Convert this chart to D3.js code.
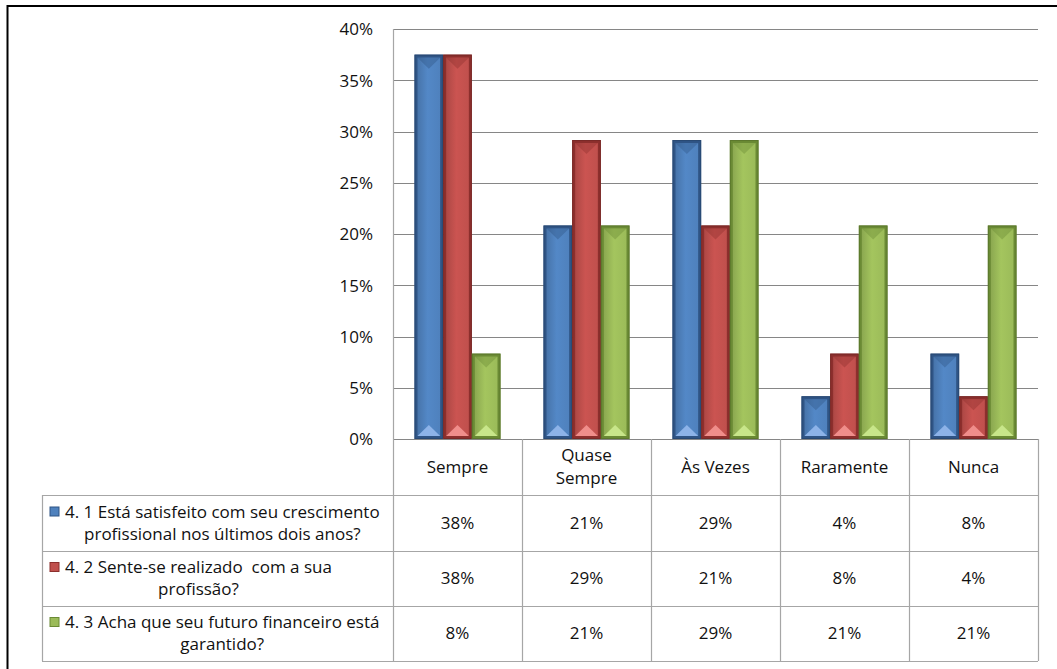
<!DOCTYPE html>
<html><head><meta charset="utf-8">
<script src="https://cdn.jsdelivr.net/npm/d3@7"></script>
<style>
body{margin:0;background:#fff;}
svg{display:block;font-family:"Open Sans","Lato",sans-serif;}
text{white-space:pre;}
</style></head>
<body>
<svg id="chart" width="1057" height="669"></svg>
<script>
const categories = ["Sempre", "Quase Sempre", "Às Vezes", "Raramente", "Nunca"];
const categoryLines = [["Sempre"], ["Quase", "Sempre"], ["Às Vezes"], ["Raramente"], ["Nunca"]];
const seriesNames = [
  ["4. 1 Está satisfeito com seu crescimento", "profissional nos últimos dois anos?"],
  ["4. 2 Sente-se realizado  com a sua", "profissão?"],
  ["4. 3 Acha que seu futuro financeiro está", "garantido?"]
];
const s1 = [0.375, 0.2083, 0.2917, 0.0417, 0.0833];
const s2 = [0.375, 0.2917, 0.2083, 0.0833, 0.0417];
const s3 = [0.0833, 0.2083, 0.2917, 0.2083, 0.2083];
const yTicks = [0, 0.05, 0.10, 0.15, 0.20, 0.25, 0.30, 0.35, 0.40];
const colors = ["#4F81BD", "#C0504D", "#9BBB59"];
const darkColors = ["#2F5485", "#8C2F2D", "#6A8A34"];
const lightColors = ["#8DB3E8", "#F08E8B", "#C8E68A"];

const series = [s1, s2, s3];
const svg = d3.select("#chart");
const fmt = d3.format(".0%");
const FS = 17;

const plotL = 393, plotR = 1038, plotT = 29, plotB = 439;
const tableL = 42;
const rowYs = [439, 495, 551, 606, 661];

const x = d3.scaleBand().domain(categories).range([plotL, plotR]).paddingInner(0).paddingOuter(0);
const y = d3.scaleLinear().domain([0, 0.4]).range([plotB, plotT]);
const gap = 1.5;
const xs = d3.scaleBand().domain([0,1,2]).range([x.bandwidth()*gap/(3+gap)/2, x.bandwidth() - x.bandwidth()*gap/(3+gap)/2]).padding(0);

// frame
svg.append("line").attr("x1", 7.5).attr("x2", 1057).attr("y1", 6).attr("y2", 6).attr("stroke", "#000").attr("stroke-width", 2);
svg.append("line").attr("x1", 7.5).attr("x2", 7.5).attr("y1", 5).attr("y2", 669).attr("stroke", "#000").attr("stroke-width", 2);

// gridlines
svg.append("g").selectAll("line").data(yTicks.slice(1)).join("line")
  .attr("x1", plotL).attr("x2", plotR)
  .attr("y1", d => Math.round(y(d)) + 0.5).attr("y2", d => Math.round(y(d)) + 0.5)
  .attr("stroke", "#868686").attr("stroke-width", 1);

// y axis
const yAxis = d3.axisLeft(y).tickValues(yTicks).tickFormat(fmt).tickSize(0).tickPadding(20);
const ga = svg.append("g").attr("transform", `translate(${plotL},0)`).call(yAxis);
ga.select(".domain").remove();
ga.selectAll("text").attr("font-size", FS).attr("font-family", "Open Sans").attr("fill", "#111").attr("dy", "0.35em");
svg.append("line").attr("x1", plotL + 0.5).attr("x2", plotL + 0.5).attr("y1", plotT).attr("y2", plotB)
  .attr("stroke", "#868686");

// defs for gradients
const defs = svg.append("defs");
colors.forEach((c, i) => {
  const g = defs.append("linearGradient").attr("id", "g" + i).attr("x1", "0").attr("x2", "1").attr("y1", "0").attr("y2", "0");
  g.append("stop").attr("offset", "0").attr("stop-color", d3.color(c).darker(0.3));
  g.append("stop").attr("offset", "0.45").attr("stop-color", d3.color(c).brighter(0.15));
  g.append("stop").attr("offset", "1").attr("stop-color", c);
});

// bars
series.forEach((s, si) => {
  const g = svg.append("g");
  const bars = g.selectAll("g").data(s.map((v, ci) => ({v, c: categories[ci]}))).join("g")
    .attr("transform", d => `translate(${x(d.c) + xs(si)},0)`);
  bars.each(function(d) {
    const b = d3.select(this);
    const top = y(d.v), bot = y(0), w = xs.bandwidth(), h = bot - top;
    const e = 3;
    b.append("rect").attr("x", 0).attr("y", top).attr("width", w).attr("height", h)
      .attr("fill", darkColors[si]);
    b.append("rect").attr("x", e).attr("y", top + e).attr("width", w - 2*e).attr("height", Math.max(0, h - 2*e))
      .attr("fill", `url(#g${si})`);
    const th = Math.min(11, h/2 - e);
    b.append("path").attr("d", `M${e},${top+e}L${w-e},${top+e}L${w/2},${top+e+th}Z`)
      .attr("fill", darkColors[si]).attr("opacity", 0.4);
    b.append("path").attr("d", `M${e},${bot-e}L${w-e},${bot-e}L${w/2},${bot-e-th}Z`)
      .attr("fill", lightColors[si]);
    b.append("rect").attr("x", 0.5).attr("y", top + 0.5).attr("width", w - 1).attr("height", h - 1)
      .attr("fill", "none").attr("stroke", d3.color(darkColors[si]).darker(0.4)).attr("stroke-width", 1);
  });
});

// data table lines
const tl = svg.append("g").attr("stroke", "#A6A6A6").attr("stroke-width", 1.2);
tl.append("line").attr("x1", plotL).attr("x2", plotR).attr("y1", rowYs[0]+0.5).attr("y2", rowYs[0]+0.5).attr("stroke", "#868686");
rowYs.slice(1).forEach(ry => {
  tl.append("line").attr("x1", tableL).attr("x2", plotR).attr("y1", ry + 0.5).attr("y2", ry + 0.5);
});
tl.append("line").attr("x1", tableL + 0.5).attr("x2", tableL + 0.5).attr("y1", rowYs[1]).attr("y2", rowYs[4]);
categories.forEach((c, i) => {
  const xx = x(c);
  tl.append("line").attr("x1", xx + 0.5).attr("x2", xx + 0.5).attr("y1", i === 0 ? plotT : rowYs[0]).attr("y2", rowYs[4]);
});
tl.append("line").attr("x1", plotR + 0.5).attr("x2", plotR + 0.5).attr("y1", rowYs[0]).attr("y2", rowYs[4]);

// category labels
categoryLines.forEach((lines, i) => {
  const cx = x(categories[i]) + x.bandwidth()/2;
  const cy = (rowYs[0] + rowYs[1]) / 2;
  const lh = 23;
  lines.forEach((t, li) => {
    svg.append("text").attr("x", cx).attr("y", cy + (li - (lines.length - 1)/2) * lh)
      .attr("dy", "0.35em").attr("text-anchor", "middle").attr("font-size", FS).attr("fill", "#111").text(t);
  });
});

// series rows
series.forEach((s, si) => {
  const cy = (rowYs[si+1] + rowYs[si+2]) / 2;
  s.forEach((v, ci) => {
    svg.append("text").attr("x", x(categories[ci]) + x.bandwidth()/2).attr("y", cy).attr("dy", "0.35em")
      .attr("text-anchor", "middle").attr("font-size", FS).attr("fill", "#111").text(fmt(v));
  });
  const lines = seriesNames[si];
  const lh = 22;
  const keyX = tableL + 8;
  const textX = keyX + 15;
  const t1 = svg.append("text").attr("x", textX).attr("y", cy - lh/2).attr("dy", "0.35em")
    .attr("text-anchor", "start").attr("font-size", FS).attr("fill", "#111").text(lines[0]);
  const bb = t1.node().getBBox();
  svg.append("rect").attr("x", keyX).attr("y", cy - lh/2 - 5).attr("width", 9).attr("height", 9)
    .attr("fill", colors[si]).attr("stroke", darkColors[si]).attr("stroke-width", 1);
  svg.append("text").attr("x", bb.x + bb.width/2).attr("y", cy + lh/2).attr("dy", "0.35em")
    .attr("text-anchor", "middle").attr("font-size", FS).attr("fill", "#111").text(lines[1]);
});
</script>
</body></html>
